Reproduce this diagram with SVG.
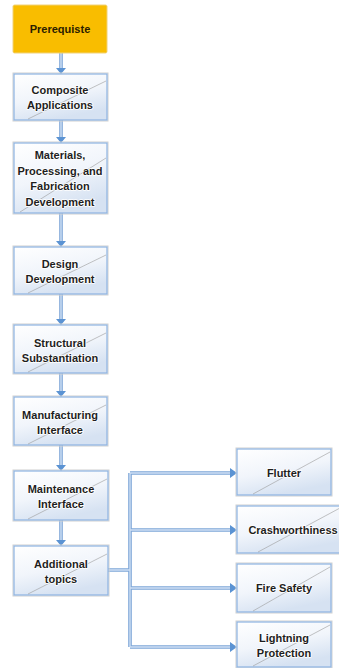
<svg xmlns="http://www.w3.org/2000/svg" width="339" height="668" viewBox="0 0 339 668">
  <style>
    .box { fill: url(#boxFill); stroke: #8db3e2; stroke-width: 1.2; }
    .frame { fill: none; stroke: #cfcfcf; stroke-width: 1; }
    .prq { fill: #f9bd00; stroke: #f0d27a; stroke-width: 1; }
    .diag { stroke: #9a9a9a; stroke-width: 0.6; fill: none; }
    .lbl { font-family: "Liberation Sans", Arial, sans-serif; font-weight: bold; font-size: 11px; fill: #1e1e1e; text-anchor: middle; stroke: #ffffff; stroke-width: 1.6; paint-order: stroke; stroke-linejoin: round; }
    .lbl2 { font-family: "Liberation Sans", Arial, sans-serif; font-weight: bold; font-size: 11px; fill: #2a2000; text-anchor: middle; }
    .wire-o { fill: none; stroke: #7ea6d8; stroke-width: 3.6; }
    .wire-i { fill: none; stroke: #cfe0f4; stroke-width: 1.4; }
    .head { fill: #5b93d3; }
  </style>
  <defs>
    <linearGradient id="boxFill" x1="0" y1="0" x2="0.4" y2="1">
      <stop offset="0" stop-color="#ffffff"/>
      <stop offset="0.55" stop-color="#f1f5fb"/>
      <stop offset="1" stop-color="#d6e2f2"/>
    </linearGradient>
  </defs>

  <!-- connectors -->
  <g id="connectors">
    <path class="wire-o" d="M61 53V69 M61 120V138 M61 213V242 M61 294V320 M61 373V392 M61 445V466 M61 520V541 M108 570H130 M130 473V647 M130 473H232 M130 530H232 M130 588H232 M130 647H232"/>
    <path class="wire-i" d="M61 53V69 M61 120V138 M61 213V242 M61 294V320 M61 373V392 M61 445V466 M61 520V541 M108 570H130 M130 473V647 M130 473H232 M130 530H232 M130 588H232 M130 647H232"/>
    <path class="head" d="M56 68H66L61 74Z M56 137H66L61 143Z M56 241H66L61 247Z M56 319H66L61 325Z M56 391H66L61 397Z M56 465H66L61 471Z M56 540H66L61 546Z"/>
    <path class="head" d="M230 468V478L237 473Z M230 525V535L237 530Z M230 583V593L237 588Z M230 642V652L237 647Z"/>
  </g>

  <g id="prerequiste">
    <rect class="prq" x="13" y="5" width="94" height="48" rx="1.5"/>
    <text class="lbl2" x="60" y="33">Prerequiste</text>
  </g>

  <g id="composite-applications">
    <rect class="frame" x="13" y="73" width="95" height="48"/>
    <rect class="box" x="14" y="74" width="93" height="46"/>
    <path class="diag" d="M28 119L106 81"/>
    <text class="lbl" x="60" y="94">Composite</text>
    <text class="lbl" x="60" y="109">Applications</text>
  </g>

  <g id="materials">
    <rect class="frame" x="13" y="142" width="95" height="72"/>
    <rect class="box" x="14" y="143" width="93" height="70"/>
    <path class="diag" d="M20 212L106 158"/>
    <text class="lbl" x="60" y="159">Materials,</text>
    <text class="lbl" x="60" y="174.5">Processing, and</text>
    <text class="lbl" x="60" y="190">Fabrication</text>
    <text class="lbl" x="60" y="205.5">Development</text>
  </g>

  <g id="design-development">
    <rect class="frame" x="13" y="246" width="95" height="49"/>
    <rect class="box" x="14" y="247" width="93" height="47"/>
    <path class="diag" d="M28 293L106 255"/>
    <text class="lbl" x="60" y="268">Design</text>
    <text class="lbl" x="60" y="283">Development</text>
  </g>

  <g id="structural-substantiation">
    <rect class="frame" x="13" y="324" width="95" height="50"/>
    <rect class="box" x="14" y="325" width="93" height="48"/>
    <path class="diag" d="M28 372L106 333"/>
    <text class="lbl" x="60" y="347">Structural</text>
    <text class="lbl" x="60" y="362">Substantiation</text>
  </g>

  <g id="manufacturing-interface">
    <rect class="frame" x="13" y="396" width="95" height="50"/>
    <rect class="box" x="14" y="397" width="93" height="48"/>
    <path class="diag" d="M28 444L106 405"/>
    <text class="lbl" x="60" y="419">Manufacturing</text>
    <text class="lbl" x="60" y="434">Interface</text>
  </g>

  <g id="maintenance-interface">
    <rect class="frame" x="13" y="470" width="96" height="51"/>
    <rect class="box" x="14" y="471" width="94" height="49"/>
    <path class="diag" d="M28 519L107 479"/>
    <text class="lbl" x="61" y="493">Maintenance</text>
    <text class="lbl" x="61" y="508">Interface</text>
  </g>

  <g id="additional-topics">
    <rect class="frame" x="13" y="545" width="96" height="51"/>
    <rect class="box" x="14" y="546" width="94" height="49"/>
    <path class="diag" d="M28 594L107 554"/>
    <text class="lbl" x="61" y="568">Additional</text>
    <text class="lbl" x="61" y="583">topics</text>
  </g>

  <g id="flutter">
    <rect class="frame" x="236" y="448" width="96" height="48"/>
    <rect class="box" x="237" y="449" width="94" height="46"/>
    <path class="diag" d="M253 494L330 452"/>
    <text class="lbl" x="284" y="477">Flutter</text>
  </g>

  <g id="crashworthiness">
    <rect class="frame" x="236" y="505" width="106" height="49"/>
    <rect class="box" x="237" y="506" width="104" height="47"/>
    <path class="diag" d="M258 552L340 508"/>
    <text class="lbl" x="293" y="534">Crashworthiness</text>
  </g>

  <g id="fire-safety">
    <rect class="frame" x="236" y="563" width="96" height="50"/>
    <rect class="box" x="237" y="564" width="94" height="48"/>
    <path class="diag" d="M253 611L330 567"/>
    <text class="lbl" x="284" y="592">Fire Safety</text>
  </g>

  <g id="lightning-protection">
    <rect class="frame" x="236" y="621" width="96" height="47"/>
    <rect class="box" x="237" y="622" width="94" height="45"/>
    <path class="diag" d="M253 666L330 625"/>
    <text class="lbl" x="284" y="642">Lightning</text>
    <text class="lbl" x="284" y="657">Protection</text>
  </g>
</svg>
